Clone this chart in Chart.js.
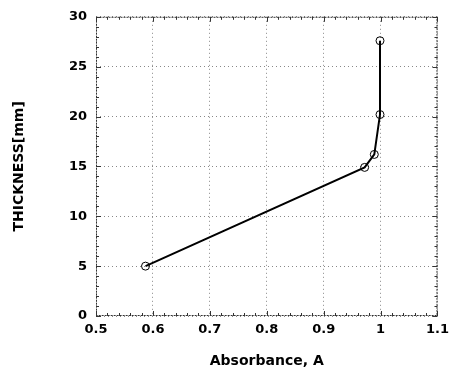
<!DOCTYPE html>
<html>
<head>
<meta charset="utf-8">
<script src="https://cdn.jsdelivr.net/npm/chart.js@4.4.1/dist/chart.umd.min.js"></script>
<style>
  html, body { margin: 0; padding: 0; background: #fff; }
  #wrap { width: 455px; height: 374px; }
</style>
</head>
<body>
<div id="wrap"><canvas id="chart" width="455" height="374"></canvas></div>
<script>
// absorbance vs thickness readings
const absorbance = [0.587, 0.972, 0.989, 0.999, 0.999];
const thickness = [5, 14.9, 16.2, 20.2, 27.6];
const xTicks = [0.5, 0.6, 0.7, 0.8, 0.9, 1, 1.1];
const yTicks = [0, 5, 10, 15, 20, 25, 30];

const FONT = "'DejaVu Sans', sans-serif";

// frame and inward ticks on all four sides
const framePlugin = {
  id: 'frame',
  afterDraw(chart) {
    const { ctx, chartArea: a, scales: { x, y } } = chart;
    ctx.save();
    ctx.strokeStyle = '#333';
    ctx.lineWidth = 1;
    ctx.setLineDash([2, 1]);
    ctx.strokeRect(a.left + 0.5, a.top + 0.5, a.right - a.left - 1, a.bottom - a.top - 1);
    ctx.setLineDash([]);
    ctx.beginPath();
    for (let v = 0.5; v <= 1.1001; v += 0.02) {
      const px = Math.round(x.getPixelForValue(v)) + 0.5;
      const major = Math.abs(v * 10 - Math.round(v * 10)) < 1e-6;
      const len = major ? 5 : 3;
      ctx.moveTo(px, a.bottom); ctx.lineTo(px, a.bottom - len);
      ctx.moveTo(px, a.top); ctx.lineTo(px, a.top + len);
    }
    for (let v = 0; v <= 30; v += 1) {
      const py = Math.round(y.getPixelForValue(v)) + 0.5;
      const len = v % 5 === 0 ? 5 : 3;
      ctx.moveTo(a.left, py); ctx.lineTo(a.left + len, py);
      ctx.moveTo(a.right, py); ctx.lineTo(a.right - len, py);
    }
    ctx.stroke();
    ctx.restore();
  }
};

new Chart(document.getElementById('chart'), {
  type: 'scatter',
  data: {
    datasets: [{
      data: absorbance.map((v, i) => ({ x: v, y: thickness[i] })),
      showLine: true,
      borderColor: '#000',
      borderWidth: 2,
      pointRadius: 4,
      pointBorderWidth: 1,
      pointBorderColor: '#000',
      pointBackgroundColor: 'rgba(255,255,255,0)',
      tension: 0
    }]
  },
  options: {
    responsive: false,
    animation: false,
    layout: { padding: { top: 12, right: 14, left: 0, bottom: 0 } },
    plugins: { legend: { display: false }, tooltip: { enabled: false } },
    scales: {
      x: {
        type: 'linear',
        min: 0.5, max: 1.1,
        afterBuildTicks: s => { s.ticks = xTicks.map(v => ({ value: v })); },
        afterFit: s => { s.height = 58; },
        ticks: {
          color: '#000',
          padding: 6,
          maxRotation: 0,
          font: { family: FONT, size: 13, weight: 'bold' },
          callback: v => String(v)
        },
        grid: { color: '#888', lineWidth: 1, drawTicks: false },
        border: { display: false, dash: [1, 3] },
        title: {
          display: true,
          text: 'Absorbance, A',
          color: '#000',
          padding: { top: 12 },
          font: { family: FONT, size: 14, weight: 'bold' }
        }
      },
      y: {
        type: 'linear',
        min: 0, max: 30,
        afterBuildTicks: s => { s.ticks = yTicks.map(v => ({ value: v })); },
        afterFit: s => { s.width = 96; },
        ticks: {
          color: '#000',
          padding: 9,
          font: { family: FONT, size: 13, weight: 'bold' }
        },
        grid: { color: '#888', lineWidth: 1, drawTicks: false },
        border: { display: false, dash: [1, 3] },
        title: {
          display: true,
          text: 'THICKNESS[mm]',
          color: '#000',
          padding: { top: 11, bottom: 4 },
          font: { family: FONT, size: 14, weight: 'bold' }
        }
      }
    }
  },
  plugins: [framePlugin]
});
</script>
</body>
</html>
